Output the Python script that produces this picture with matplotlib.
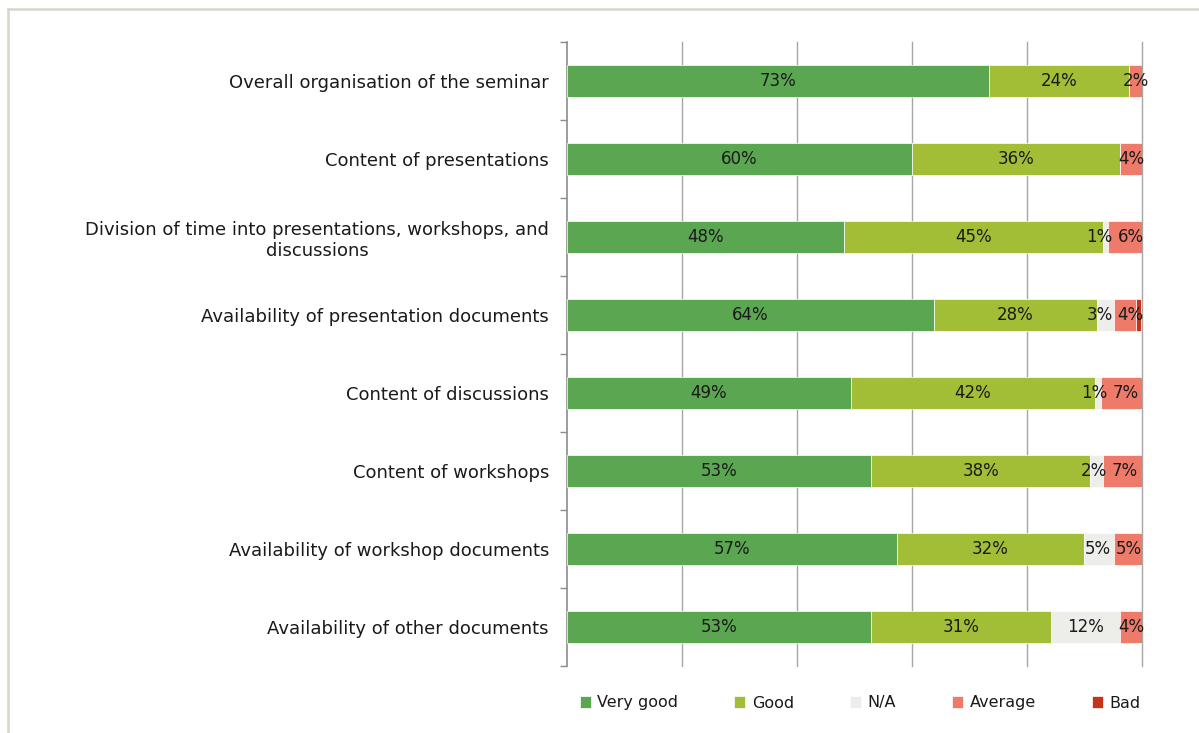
import matplotlib
matplotlib.use("Agg")
import matplotlib.pyplot as plt
from matplotlib.lines import Line2D
import numpy as np

categories = [
    "Overall organisation of the seminar",
    "Content of presentations",
    "Division of time into presentations, workshops, and\ndiscussions",
    "Availability of presentation documents",
    "Content of discussions",
    "Content of workshops",
    "Availability of workshop documents",
    "Availability of other documents",
]
series_names = ["Very good", "Good", "N/A", "Average", "Bad"]
very_good = [73.4, 60.0, 48.2, 63.8, 49.4, 52.9, 57.4, 52.9]
good      = [24.4, 36.2, 45.0, 28.4, 42.4, 38.1, 32.5, 31.3]
na        = [0.0, 0.0, 0.9, 2.9, 1.1, 2.2, 5.2, 12.0]
average   = [2.2, 3.8, 5.9, 3.8, 7.1, 6.8, 4.9, 3.8]
bad       = [0.0, 0.0, 0.0, 1.0, 0.0, 0.0, 0.0, 0.0]
series = [very_good, good, na, average, bad]
colors = ["#5ba650", "#a2be37", "#ededea", "#ee7b69", "#c4331a"]
show_labels = [True, True, True, True, False]

W, H = 1199, 733
fig = plt.figure(figsize=(W / 100, H / 100), dpi=100)
bc = "#d6d6cc"
fig.add_artist(Line2D([8 / W, 1.0], [1 - 9 / H, 1 - 9 / H], transform=fig.transFigure,
                      color=bc, linewidth=1.8))
fig.add_artist(Line2D([8 / W, 8 / W], [0, 1 - 9 / H], transform=fig.transFigure,
                      color=bc, linewidth=1.8))
ax = fig.add_axes([567 / W, 1 - 666 / H, (1142 - 567) / W, (666 - 42) / H])

y = np.arange(len(categories))
left = np.zeros(len(categories))
row_texts = {i: [] for i in y}
for name, vals, col, lab in zip(series_names, series, colors, show_labels):
    vals = np.array(vals)
    bars = ax.barh(y, vals, left=left, height=0.41, color=col, label=name,
                   edgecolor="white", linewidth=0.5, zorder=3)
    if lab:
        for i, (b, v) in enumerate(zip(bars, vals)):
            if v > 0:
                t = ax.text(b.get_x() + b.get_width() / 2, b.get_y() + b.get_height() / 2,
                            f"{round(v):.0f}%", ha="center", va="center", fontsize=12,
                            color="#1a1a1a", zorder=4)
                row_texts[i].append(t)
    left += vals

ax.set_xlim(0, 100)
ax.set_ylim(len(categories) - 0.5, -0.5)
ax.set_xticks([20, 40, 60, 80, 100])
ax.tick_params(axis="x", length=0, labelbottom=False)
ax.grid(axis="x", color="#a6a6a6", linewidth=1.0, zorder=0)
for gl in ax.get_xgridlines():
    gl.set_clip_on(False)
ax.set_axisbelow(True)

ax.set_yticks(y)
ax.set_yticklabels(categories, fontsize=13, color="#1a1a1a", multialignment="center")
ax.tick_params(axis="y", which="major", length=0, pad=13)
ax.set_yticks(np.arange(-0.5, len(categories)), minor=True)
ax.tick_params(axis="y", which="minor", length=5, width=1, color="#8c8c8c", direction="out")

for s in ["top", "right", "bottom"]:
    ax.spines[s].set_visible(False)
ax.spines["left"].set_color("#8c8c8c")
ax.spines["left"].set_linewidth(1.2)

handles, labels = ax.get_legend_handles_labels()
fig.legend(handles, labels, loc="center", bbox_to_anchor=(860 / W, 1 - 703 / H), ncol=5,
           frameon=False, fontsize=11.5, handlelength=0.7, handleheight=0.7,
           handletextpad=0.4, columnspacing=3.5, labelcolor="#1a1a1a")

# nudge adjacent data labels apart (as the spreadsheet does) when they collide
fig.canvas.draw()
renderer = fig.canvas.get_renderer()
px_per_unit = ax.transData.transform((1, 0))[0] - ax.transData.transform((0, 0))[0]
gap = 5
for i, texts in row_texts.items():
    for k in range(len(texts) - 1):
        a, b = texts[k], texts[k + 1]
        ea = a.get_window_extent(renderer)
        eb = b.get_window_extent(renderer)
        overlap = ea.x1 + gap - eb.x0
        if overlap > 0:
            shift = overlap / 2 / px_per_unit
            a.set_x(a.get_position()[0] - shift)
            b.set_x(b.get_position()[0] + shift)

fig.savefig("out.png", dpi=100)
